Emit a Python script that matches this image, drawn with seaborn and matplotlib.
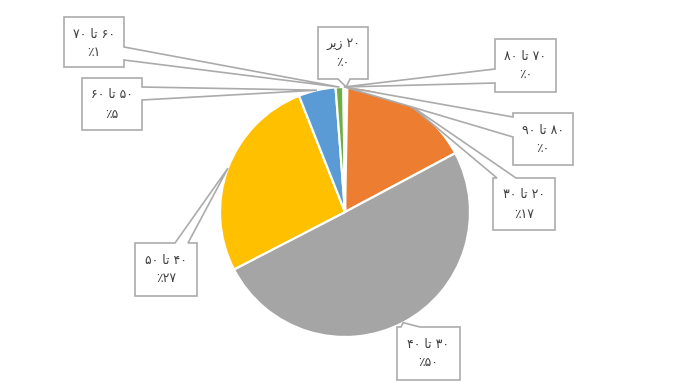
import numpy as np
import matplotlib
matplotlib.use("Agg")
import matplotlib.pyplot as plt
from matplotlib.patches import Polygon
import seaborn as sns

# ---------------- data ----------------
categories = ["زیر ۲۰", "۲۰ تا ۳۰", "۳۰ تا ۴۰", "۴۰ تا ۵۰",
              "۵۰ تا ۶۰", "۶۰ تا ۷۰", "۷۰ تا ۸۰", "۸۰ تا ۹۰"]
values = [0.3, 16.9, 50.2, 26.6, 4.8, 1.0, 0.1, 0.1]
colors = ["#4472C4", "#ED7D31", "#A5A5A5", "#FFC000",
          "#5B9BD5", "#70AD47", "#264478", "#9E480E"]

# callout boxes (pixel layout): x0, y0, w, h, side of tail, tail base positions
boxes = [
    (318, 27, 50, 52, "bottom", 338, 350),
    (493, 178, 62, 52, "top", 497, 516),
    (397, 327, 63, 53, "top", 401, 420),
    (135, 243, 62, 53, "top", 175, 188),
    (82, 78, 60, 52, "right", 87, 100),
    (64, 17, 60, 50, "right", 47, 60),
    (495, 39, 61, 53, "left", 69, 83),
    (513, 113, 60, 52, "left", 117, 137),
]

# ---------------- text helpers ----------------
FA_DIGITS = str.maketrans("0123456789", "۰۱۲۳۴۵۶۷۸۹")
SHAPED = {"تا": "\uFE8E\uFE97", "زیر": "\uFEAE\uFEF3\uFEAF"}


def visual(label):
    toks = label.split()
    shaped = [SHAPED.get(t, t) for t in toks]
    if "تا" in toks:
        shaped = shaped[::-1]
    return " ".join(shaped)


def pct_text(v, total):
    return "\u066A" + str(int(v / total * 100 + 0.5)).translate(FA_DIGITS)


# ---------------- figure ----------------
sns.set_theme(style="white")
plt.rcParams["font.family"] = ["DejaVu Sans"]

W, H = 694, 383
fig = plt.figure(figsize=(W / 100, H / 100), dpi=100)
ax = fig.add_axes([0, 0, 1, 1])

cx, cy, R = 345, 212, 125
ax.pie(values, colors=colors, startangle=-90, counterclock=True,
       center=(cx, cy), radius=R,
       wedgeprops=dict(edgecolor="white", linewidth=1.6))
ax.set_xlim(0, W)
ax.set_ylim(H, 0)
ax.set_aspect("auto")
ax.axis("off")

total = sum(values)
cum = np.cumsum([0] + values[:-1])
line_col = "#ABABAB"
for i, (cat, v) in enumerate(zip(categories, values)):
    theta = np.deg2rad(-90 + 360 * (cum[i] + v / 2) / total)
    tip = (cx + R * np.cos(theta), cy + R * np.sin(theta))
    x0, y0, w, h, side, b1, b2 = boxes[i]
    x1, y1 = x0 + w, y0 + h
    # polygon going clockwise (visually) from top-left
    pts = [(x0, y0)]
    if side == "top":
        pts += [(b1, y0), tip, (b2, y0)]
    pts += [(x1, y0)]
    if side == "right":
        pts += [(x1, b1), tip, (x1, b2)]
    pts += [(x1, y1)]
    if side == "bottom":
        pts += [(b2, y1), tip, (b1, y1)]
    pts += [(x0, y1)]
    if side == "left":
        pts += [(x0, b2), tip, (x0, b1)]
    ax.add_patch(Polygon(pts, closed=True, facecolor="white",
                         edgecolor=line_col, linewidth=1.2, zorder=5))
    ax.text(x0 + w / 2, y0 + 17, visual(cat), ha="center", va="center",
            fontsize=9, color="#404040", zorder=6)
    ax.text(x0 + w / 2, y0 + 36, pct_text(v, total), ha="center", va="center",
            fontsize=9, color="#404040", zorder=6)

fig.savefig("out.png", dpi=100, facecolor="white")
